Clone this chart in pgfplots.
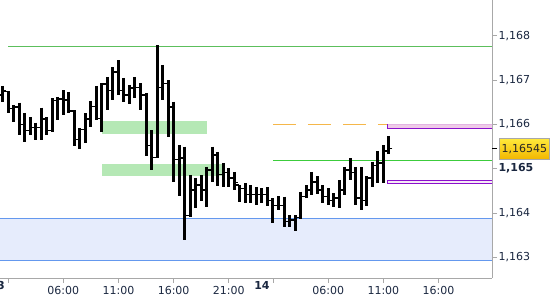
\documentclass[border=0pt]{standalone}
\usepackage{pgfplots}
\pgfplotsset{compat=1.18}
\usepackage{pgfplotstable}
\usepackage{fontspec}
\setmainfont{DejaVu Sans}
\definecolor{axgray}{HTML}{A8A8A8}
\definecolor{lbl}{HTML}{1A2740}
\definecolor{zoneblue}{HTML}{E6ECFC}
\definecolor{lineblue}{HTML}{6498EE}
\definecolor{topgreen}{HTML}{5CBF5C}
\definecolor{brgreen}{HTML}{3CCC3C}
\definecolor{rectgreen}{HTML}{B5E8B5}
\definecolor{purp}{HTML}{8A10CC}
\definecolor{pinkfill}{HTML}{EFCBE8}
\definecolor{pinkfill2}{HTML}{F6E8F6}
\definecolor{pinkedge}{HTML}{E2B4E2}
\definecolor{orng}{HTML}{F5B74A}
\definecolor{boxtop}{HTML}{FFEA3C}
\definecolor{boxbot}{HTML}{F2B600}

\pgfplotstableread{
t o h l c
0.5 1.16666 1.16687 1.16651 1.16677
1.0 1.16675 1.16675 1.16626 1.16635
1.5 1.16635 1.16644 1.16606 1.16639
2.0 1.16639 1.16649 1.16576 1.16599
2.5 1.16599 1.16626 1.16561 1.16587
3.0 1.16587 1.16616 1.16576 1.16592
3.5 1.16592 1.16604 1.16565 1.16592
4.0 1.16592 1.16638 1.16565 1.16612
4.5 1.16612 1.16616 1.16576 1.16587
5.0 1.16587 1.16659 1.16583 1.16653
5.5 1.16653 1.16662 1.16610 1.16657
6.0 1.16657 1.16677 1.16621 1.16655
6.5 1.16655 1.16673 1.16625 1.16630
7.0 1.16630 1.16632 1.16550 1.16565
7.5 1.16565 1.16591 1.16544 1.16589
8.0 1.16589 1.16625 1.16557 1.16612
8.5 1.16612 1.16653 1.16595 1.16641
9.0 1.16641 1.16687 1.16610 1.16614
9.5 1.16614 1.16693 1.16583 1.16691
10.0 1.16691 1.16707 1.16632 1.16677
10.5 1.16677 1.16729 1.16655 1.16718
11.0 1.16718 1.16745 1.16666 1.16677
11.5 1.16677 1.16705 1.16650 1.16666
12.0 1.16666 1.16689 1.16645 1.16682
12.5 1.16682 1.16707 1.16660 1.16684
13.0 1.16684 1.16693 1.16632 1.16666
13.5 1.16666 1.16670 1.16529 1.16553
14.0 1.16553 1.16587 1.16498 1.16526
14.5 1.16526 1.16779 1.16525 1.16684
15.0 1.16684 1.16734 1.16655 1.16693
15.5 1.16693 1.16700 1.16572 1.16639
16.0 1.16639 1.16651 1.16471 1.16520
16.5 1.16520 1.16553 1.16439 1.16524
17.0 1.16524 1.16550 1.16339 1.16395
17.5 1.16395 1.16486 1.16392 1.16452
18.0 1.16452 1.16479 1.16412 1.16463
18.5 1.16463 1.16486 1.16427 1.16452
19.0 1.16452 1.16504 1.16414 1.16497
19.5 1.16497 1.16550 1.16471 1.16531
20.0 1.16531 1.16538 1.16461 1.16486
20.5 1.16486 1.16513 1.16459 1.16492
21.0 1.16492 1.16501 1.16459 1.16479
21.5 1.16479 1.16493 1.16452 1.16468
22.0 1.16463 1.16463 1.16425 1.16456
22.5 1.16456 1.16468 1.16423 1.16441
23.0 1.16441 1.16463 1.16423 1.16441
23.5 1.16441 1.16459 1.16418 1.16441
24.0 1.16441 1.16456 1.16423 1.16441
24.5 1.16441 1.16458 1.16416 1.16429
25.0 1.16429 1.16433 1.16378 1.16416
25.5 1.16416 1.16438 1.16407 1.16416
26.0 1.16416 1.16437 1.16368 1.16380
26.5 1.16380 1.16395 1.16369 1.16384
27.0 1.16384 1.16395 1.16360 1.16389
27.5 1.16389 1.16448 1.16386 1.16438
28.0 1.16438 1.16463 1.16433 1.16452
28.5 1.16452 1.16493 1.16441 1.16470
29.0 1.16470 1.16483 1.16442 1.16452
29.5 1.16452 1.16463 1.16422 1.16438
30.0 1.16438 1.16456 1.16418 1.16429
30.5 1.16429 1.16445 1.16413 1.16434
31.0 1.16434 1.16474 1.16411 1.16452
31.5 1.16452 1.16504 1.16441 1.16497
32.0 1.16497 1.16524 1.16474 1.16492
32.5 1.16492 1.16504 1.16418 1.16434
33.0 1.16434 1.16504 1.16407 1.16429
33.5 1.16429 1.16483 1.16416 1.16479
34.0 1.16479 1.16516 1.16459 1.16508
34.5 1.16508 1.16540 1.16468 1.16513
35.0 1.16513 1.16553 1.16468 1.16540
35.5 1.16540 1.16574 1.16532 1.16545
}\bars

\begin{document}
\begin{tikzpicture}
\begin{axis}[
  at={(0pt,22pt)}, anchor=south west,
  scale only axis, width=492pt, height=278pt,
  xmin=0.272, xmax=44.84, ymin=1.162533, ymax=1.168806,
  axis x line=bottom, axis y line=right,
  axis line style={-, draw=axgray, line width=0.8pt},
  tick align=outside, major tick length=5pt,
  major tick style={draw=axgray, line width=0.8pt},
  tick label style={font=\fontsize{11}{13}\selectfont, text=lbl},
  yticklabel style={xshift=-2pt},
  xtick={1,6,11,16,21,25,30,35,40},
  xticklabels={,06:00,11:00,16:00,21:00,,06:00,11:00,16:00},
  extra x ticks={0.3,24},
  extra x tick labels={\hspace*{-6.6pt}\textbf{13},\textbf{14}},
  extra x tick style={major tick length=0pt},
  ytick={1.163,1.164,1.165,1.166,1.167,1.168},
  yticklabels={{1,163},{1,164},{\bfseries 1,165},{1,166},{1,167},{1,168}},
  extra y ticks={1.16545},
  extra y tick labels={},
  extra y tick style={major tick style={draw=black, line width=1pt}},
  clip mode=individual,
]
% blue zone
\addplot[fill=zoneblue, draw=none, forget plot] coordinates {(0.272,1.16292) (44.84,1.16292) (44.84,1.16388) (0.272,1.16388)} -- cycle;
\addplot[lineblue, line width=1pt, forget plot] coordinates {(0.272,1.16388) (44.84,1.16388)};
\addplot[lineblue, line width=1pt, forget plot] coordinates {(0.272,1.16292) (44.84,1.16292)};
% green zones
\addplot[fill=rectgreen, draw=none, forget plot] coordinates {(9.51,1.16578) (19.02,1.16578) (19.02,1.16608) (9.51,1.16608)} -- cycle;
\addplot[fill=rectgreen, draw=none, forget plot] coordinates {(9.51,1.16484) (20.35,1.16484) (20.35,1.16511) (9.51,1.16511)} -- cycle;
% lines
\addplot[topgreen, line width=0.8pt, forget plot] coordinates {(1.0,1.16775) (44.84,1.16775)};
\addplot[brgreen, line width=1pt, forget plot] coordinates {(25.0,1.16519) (44.84,1.16519)};
\addplot[orng, line width=1pt, dash pattern=on 23pt off 12pt, forget plot] coordinates {(25.0,1.16599) (35.4,1.16599)};
% purple zones
\addplot[fill=pinkfill, draw=none, forget plot] coordinates {(35.4,1.16591) (44.9,1.16591) (44.9,1.16600) (35.4,1.16600)} -- cycle;
\addplot[pinkedge, line width=0.9pt, forget plot] coordinates {(35.4,1.16600) (44.84,1.16600)};
\addplot[purp, line width=0.9pt, forget plot] coordinates {(35.4,1.16600) (35.4,1.16591) (44.84,1.16591)};
\addplot[fill=pinkfill2, draw=purp, line width=0.9pt, forget plot] coordinates {(35.4,1.16467) (44.9,1.16467) (44.9,1.16474) (35.4,1.16474)} -- cycle;
% OHLC bars
\addplot[draw=none, mark=none, forget plot,
  error bars/.cd, y dir=minus, y explicit, error mark=none,
  error bar style={draw=black, line width=3pt}]
  table[x=t, y=h, y error minus expr=\thisrow{h}-\thisrow{l}] {\bars};
\addplot[only marks, mark=-, mark size=1.3pt, mark options={draw=black, line width=1.2pt, xshift=2.3pt}, forget plot]
  table[x=t, y=c] {\bars};
\addplot[only marks, mark=-, mark size=1.3pt, mark options={draw=black, line width=1.2pt, xshift=-2.3pt}, forget plot]
  table[x=t, y=o] {\bars};
\node[draw=axgray, line width=0.8pt, top color=boxtop, bottom color=boxbot,
  minimum width=50pt, minimum height=21pt, inner sep=1pt, anchor=west,
  font=\fontsize{11}{13}\selectfont, text=black!85] at (axis cs:44.84,1.16545) [xshift=7pt] {1,16545};
\end{axis}
\pgfresetboundingbox
\path[use as bounding box] (0pt,0pt) rectangle (550pt,300pt);
\end{tikzpicture}
\end{document}
